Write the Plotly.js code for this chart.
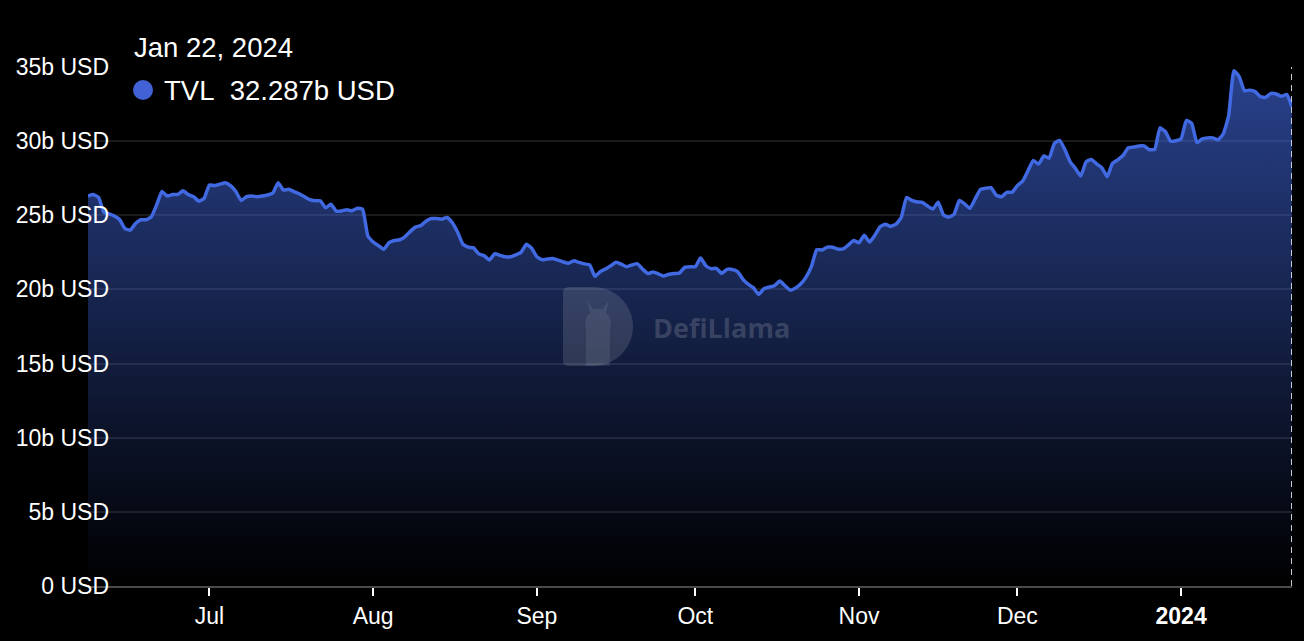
<!DOCTYPE html>
<html>
<head>
<meta charset="utf-8">
<script src="https://cdn.plot.ly/plotly-3.0.1.min.js"></script>
<style>
  html, body { margin: 0; padding: 0; background: #000; }
  #chart { width: 1304px; height: 641px; }
</style>
</head>
<body>
<div id="chart"></div>
<script>
// ---- data (TVL in billions USD, daily from START_DATE) ----
const START_DATE = '2023-06-08';
const SERIES_NAME = 'TVL';
const tvl = [
  26.3, 26.4, 26.2, 25.2, 25.1, 24.95, 24.7, 24.1, 24.0, 24.45,
  24.7, 24.7, 24.9, 25.7, 26.6, 26.3, 26.4, 26.4, 26.65, 26.4,
  26.25, 25.95, 26.15, 27.05, 27.0, 27.1, 27.2, 27.0, 26.6, 26.0,
  26.25, 26.3, 26.25, 26.3, 26.37, 26.5, 27.2, 26.7, 26.75, 26.6,
  26.45, 26.25, 26.05, 25.98, 25.98, 25.5, 25.75, 25.28, 25.29, 25.38,
  25.3, 25.47, 25.4, 23.6, 23.2, 22.95, 22.7, 23.15, 23.3, 23.35,
  23.55, 23.9, 24.2, 24.3, 24.6, 24.78, 24.78, 24.73, 24.86, 24.5,
  23.85, 23.05, 22.85, 22.8, 22.4, 22.28, 21.98, 22.4, 22.3, 22.2,
  22.2, 22.33, 22.5, 23.05, 22.78, 22.2, 22.0, 22.05, 22.08, 21.98,
  21.85, 21.76, 21.93, 21.82, 21.72, 21.65, 20.88, 21.2, 21.38, 21.6,
  21.83, 21.7, 21.53, 21.65, 21.74, 21.38, 21.07, 21.17, 21.05, 20.9,
  21.02, 21.07, 21.1, 21.49, 21.53, 21.53, 22.12, 21.6, 21.4, 21.42,
  21.08, 21.35, 21.35, 21.2, 20.7, 20.35, 20.12, 19.67, 20.05, 20.16,
  20.25, 20.57, 20.25, 19.95, 20.1, 20.38, 20.85, 21.55, 22.68, 22.66,
  22.85, 22.85, 22.72, 22.73, 23.0, 23.3, 23.15, 23.65, 23.2, 23.65,
  24.23, 24.4, 24.25, 24.4, 24.85, 26.2, 26.0, 25.9, 25.87, 25.62,
  25.42, 25.88, 25.02, 24.88, 25.06, 26.0, 25.77, 25.47, 26.1, 26.75,
  26.83, 26.86, 26.35, 26.25, 26.55, 26.55, 27.0, 27.3, 28.0, 28.7,
  28.45, 29.0, 28.85, 29.85, 30.05, 29.42, 28.6, 28.15, 27.65, 28.6,
  28.77, 28.47, 28.2, 27.6, 28.5, 28.74, 29.03, 29.55, 29.6, 29.67,
  29.68, 29.42, 29.45, 30.9, 30.65, 30.0, 30.03, 30.17, 31.4, 31.2,
  29.9, 30.15, 30.22, 30.22, 30.08, 30.5, 31.7, 34.75, 34.35, 33.4,
  33.44, 33.34, 33.0, 32.95, 33.22, 33.18, 33.02, 33.15, 32.287
];
const yTickVals = [0, 5, 10, 15, 20, 25, 30, 35];
const yTickText = ['0 USD', '5b USD', '10b USD', '15b USD', '20b USD', '25b USD', '30b USD', '35b USD'];
const xTickVals = ['2023-07-01', '2023-08-01', '2023-09-01', '2023-10-01', '2023-11-01', '2023-12-01', '2024-01-01'];
const xTickText = ['Jul', 'Aug', 'Sep', 'Oct', 'Nov', 'Dec', '<b>2024</b>'];
const MONTHS = ['Jan','Feb','Mar','Apr','May','Jun','Jul','Aug','Sep','Oct','Nov','Dec'];

// daily dates
const dates = [];
{
  const d = new Date(START_DATE + 'T00:00:00Z');
  for (let i = 0; i < tvl.length; i++) {
    dates.push(d.toISOString().slice(0, 10));
    d.setUTCDate(d.getUTCDate() + 1);
  }
}
const lastDate = new Date(dates[dates.length - 1] + 'T00:00:00Z');
const lastVal = tvl[tvl.length - 1];
const headerDate = MONTHS[lastDate.getUTCMonth()] + ' ' + lastDate.getUTCDate() + ', ' + lastDate.getUTCFullYear();
const headerVal = SERIES_NAME + '\u00a0\u00a0' + lastVal.toFixed(3) + 'b USD';

// ---- layout geometry ----
const W = 1304, H = 641;
const M = { l: 88, r: 12, t: 67, b: 55 };
const PW = W - M.l - M.r, PH = H - M.t - M.b;
const px = x => (x - M.l) / PW;
const py = y => (H - M.b - y) / PH;
function P(x, y) { return px(x).toFixed(5) + ',' + py(y).toFixed(5); }

// watermark "D" logo path (pixel -> paper)
const cx = 593, cy = 326.5, rx = 40, ry = 39.5, k = 0.5523;
const logoPath =
  'M' + P(569, cy - ry) + ' L' + P(cx, cy - ry) +
  ' C' + P(cx + k * rx, cy - ry) + ' ' + P(cx + rx, cy - k * ry) + ' ' + P(cx + rx, cy) +
  ' C' + P(cx + rx, cy + k * ry) + ' ' + P(cx + k * rx, cy + ry) + ' ' + P(cx, cy + ry) +
  ' L' + P(569, cy + ry) + ' Q' + P(563, cy + ry) + ' ' + P(563, cy + ry - 6) +
  ' L' + P(563, cy - ry + 6) + ' Q' + P(563, cy - ry) + ' ' + P(569, cy - ry) + ' Z';
// simple llama head silhouette inside logo
const llamaPath =
  'M' + P(586, 366) + ' L' + P(586, 330) + ' Q' + P(583, 318) + ' ' + P(590, 313) +
  ' L' + P(587, 300) + ' L' + P(593, 309) + ' L' + P(603, 309) + ' L' + P(609, 300) +
  ' L' + P(606, 313) + ' Q' + P(613, 318) + ' ' + P(610, 330) + ' L' + P(610, 366) + ' Z';

const lineColor = '#4169e1';
const fontFam = '"Liberation Sans", Arial, Helvetica, sans-serif';

const trace = {
  type: 'scatter',
  mode: 'lines',
  x: dates,
  y: tvl,
  name: SERIES_NAME,
  line: { color: lineColor, width: 3.5, shape: 'spline', smoothing: 0.4 },
  fill: 'tozeroy',
  fillcolor: 'rgba(65,105,225,0.35)',
  fillgradient: {
    type: 'vertical',
    start: 0,
    stop: Math.max(...tvl),
    colorscale: [[0, 'rgba(65,105,225,0.0)'], [1, 'rgba(65,105,225,0.62)']]
  },
  hoverinfo: 'skip'
};

const layout = {
  width: W, height: H,
  margin: M,
  paper_bgcolor: '#000000',
  plot_bgcolor: '#000000',
  showlegend: false,
  hovermode: false,
  font: { family: fontFam, color: '#ffffff', size: 23 },
  xaxis: {
    type: 'date',
    range: [dates[0], dates[dates.length - 1]],
    tickmode: 'array',
    tickvals: xTickVals,
    ticktext: xTickText,
    ticks: 'outside',
    ticklen: 8,
    tickwidth: 2,
    tickcolor: '#ffffff',
    showgrid: false,
    showline: true,
    linecolor: '#4a4a4a',
    linewidth: 2,
    zeroline: false,
    tickfont: { family: fontFam, size: 23, color: '#ffffff' },
    fixedrange: true
  },
  yaxis: {
    range: [0, 35],
    tickmode: 'array',
    tickvals: yTickVals,
    ticktext: yTickText,
    ticks: '',
    showgrid: true,
    gridcolor: 'rgba(255,255,255,0.1)',
    gridwidth: 2,
    zeroline: false,
    showline: false,
    ticklabelstandoff: -22,
    tickfont: { family: fontFam, size: 23, color: '#ffffff' },
    fixedrange: true
  },
  shapes: [
    {
      type: 'path', xref: 'paper', yref: 'paper', path: logoPath,
      fillcolor: 'rgba(255,255,255,0.13)', line: { width: 0 }, layer: 'above'
    },
    {
      type: 'path', xref: 'paper', yref: 'paper', path: llamaPath,
      fillcolor: 'rgba(255,255,255,0.08)', line: { width: 0 }, layer: 'above'
    },
    {
      type: 'line', xref: 'x', yref: 'paper',
      x0: dates[dates.length - 1], x1: dates[dates.length - 1], y0: 0, y1: 1,
      line: { color: '#c9ccd6', width: 2, dash: '6px,5px' }, layer: 'above'
    },
    {
      type: 'circle', xref: 'paper', yref: 'paper',
      xsizemode: 'pixel', ysizemode: 'pixel', xanchor: 0, yanchor: 1,
      x0: 45, x1: 65, y0: -33, y1: -13,
      fillcolor: '#4361d6', line: { width: 0 }
    }
  ],
  annotations: [
    {
      text: headerDate, xref: 'paper', yref: 'paper', x: 0, y: 1,
      xanchor: 'left', yanchor: 'middle', xshift: 44, yshift: 20,
      showarrow: false, font: { family: fontFam, size: 27.5, color: '#ffffff' }
    },
    {
      text: headerVal, xref: 'paper', yref: 'paper', x: 0, y: 1,
      xanchor: 'left', yanchor: 'middle', xshift: 74, yshift: -23,
      showarrow: false, font: { family: fontFam, size: 27.5, color: '#ffffff' }
    },
    {
      text: '<b>DefiLlama</b>', xref: 'paper', yref: 'paper',
      x: px(722), y: py(327), xanchor: 'center', yanchor: 'middle',
      showarrow: false, font: { family: '"Open Sans", "Liberation Sans", sans-serif', size: 27, color: 'rgba(255,255,255,0.17)' }
    }
  ]
};

Plotly.newPlot('chart', [trace], layout, { displayModeBar: false, staticPlot: true });
</script>
</body>
</html>
